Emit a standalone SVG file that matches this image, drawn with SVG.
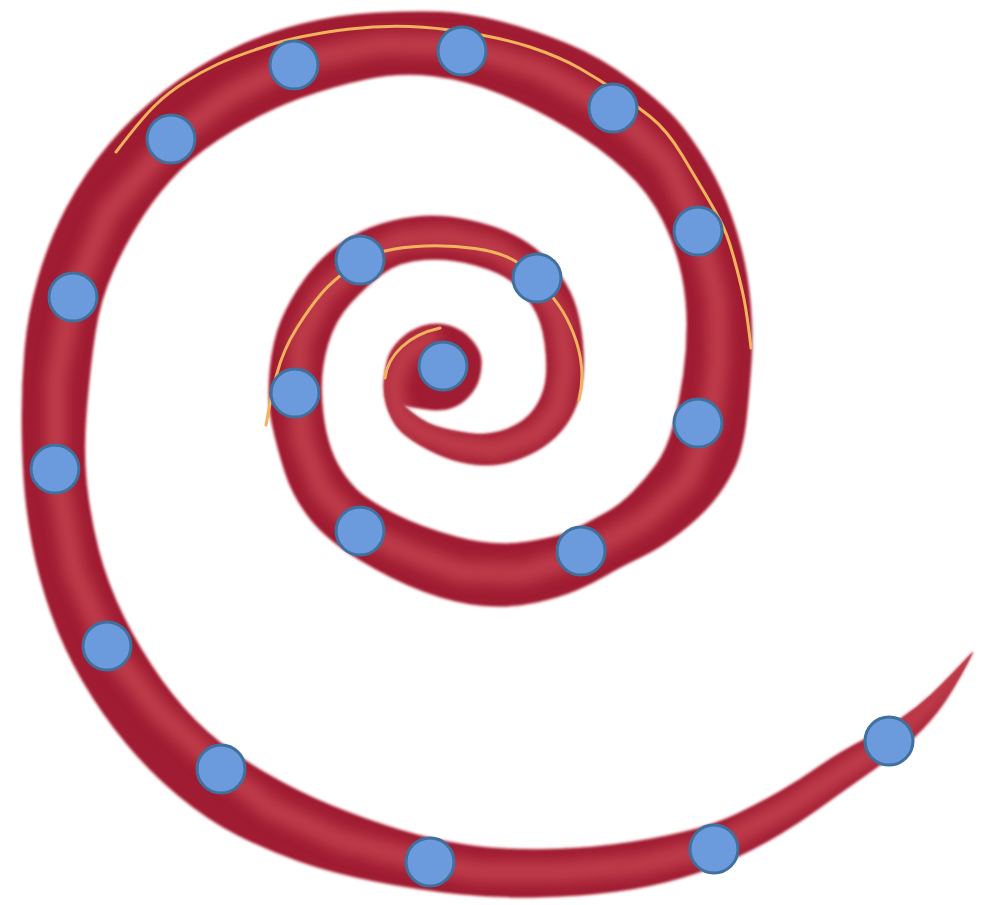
<svg xmlns="http://www.w3.org/2000/svg" width="992" height="905" viewBox="0 0 992 905">
<style>
.band{fill:#a01f31}
.hl{fill:none;stroke:#c4434f;stroke-width:22;stroke-linejoin:round;stroke-linecap:round;opacity:0.85}
.gold{fill:none;stroke:#f2b35e;stroke-width:3;stroke-linecap:round}
.dot{fill:#6b9bdc;stroke:#41709c;stroke-width:3}
</style>
<defs>
<path id="bandPath" d="M973,652 Q952,693 937.5,711.5 Q923,730 906.5,744 Q890,758 865,775.5 Q840,793 820,807.5 Q800,822 780,834 Q760,846 737,857 Q714,868 682,877.5 Q650,887 615,891.5 Q580,896 540,897 Q500,898 460,894 Q420,890 376.5,881.5 Q333,873 300,861.5 Q267,850 237.5,835 Q208,820 179,796 Q150,772 126,743 Q102,714 83,681.5 Q64,649 51.5,614 Q39,579 32.5,544.5 Q26,510 24,480 Q22,450 22,416.5 Q22,383 25,348.5 Q28,314 38.5,277.5 Q49,241 67,207 Q85,173 109.5,144 Q134,115 164,91.5 Q194,68 228.5,51 Q263,34 300,24.5 Q337,15 375.5,13 Q414,11 440.5,12 Q467,13 500,21.5 Q533,30 566.5,43.5 Q600,57 633.5,82 Q667,107 683.5,128.5 Q700,150 713.5,175 Q727,200 737,233.5 Q747,267 750,300 Q753,333 751.5,358 Q750,383 746.5,416.5 Q743,450 734,468.5 Q725,487 712.5,502 Q700,517 680,532.5 Q660,548 640,557.5 Q620,567 606.5,575 Q593,583 576.5,590 Q560,597 535,602.5 Q510,608 482.5,605.5 Q455,603 424,591.5 Q393,580 360,560 Q327,540 310,518.5 Q293,497 285,472 Q277,447 272,423.5 Q267,400 270,370 Q273,340 281.5,320 Q290,300 303.5,281 Q317,262 333.5,249 Q350,236 370,228 Q390,220 415,217 Q440,214 470,220.5 Q500,227 520,238.5 Q540,250 553.5,266.5 Q567,283 573.5,300 Q580,317 582.5,342 Q585,367 581.5,386 Q578,405 570,418.5 Q562,432 549.5,442 Q537,452 520,458.5 Q503,465 486.5,465 Q470,465 453.5,460 Q437,455 420,445 Q403,435 396.5,426 Q390,417 386.5,405 Q383,393 384,381.5 Q385,370 387.5,360 Q390,350 400,340 Q410,330 423.5,326 Q437,322 450,326 Q463,330 471.5,340 Q480,350 481,358.5 Q482,367 479.5,377 Q477,387 470,395 Q463,403 455,406.5 Q447,410 437,410 Q427,410 403,405 Q420,421 435,426 Q450,431 470,433.5 Q490,436 507.5,429 Q525,422 534,409.5 Q543,397 545.5,382 Q548,367 545,343.5 Q542,320 532,305 Q522,290 511,281 Q500,272 475,265 Q450,258 425,259.5 Q400,261 383.5,273 Q367,285 351,302.5 Q335,320 328,343.5 Q321,367 321.5,390 Q322,413 326,431.5 Q330,450 337.5,464 Q345,478 356,489 Q367,500 393.5,513.5 Q420,527 456.5,537 Q493,547 526.5,542 Q560,537 576.5,528.5 Q593,520 606.5,512.5 Q620,505 632.5,492.5 Q645,480 656,465 Q667,450 673.5,425 Q680,400 683.5,375 Q687,350 687,325 Q687,300 682,275 Q677,250 663.5,221.5 Q650,193 625,170 Q600,147 566.5,127 Q533,107 500,93.5 Q467,80 433.5,76 Q400,72 366.5,79 Q333,86 300,98 Q267,110 233.5,130 Q200,150 180,170 Q160,190 143.5,215 Q127,240 113.5,270 Q100,300 95,333.5 Q90,367 86.5,408.5 Q83,450 86.5,483.5 Q90,517 98.5,550 Q107,583 123.5,616.5 Q140,650 161.5,680 Q183,710 207,731.5 Q231,753 265.5,773 Q300,793 333.5,806.5 Q367,820 400,830 Q433,840 466.5,845 Q500,850 540,849.5 Q580,849 615,844.5 Q650,840 682,832.5 Q714,825 737,814 Q760,803 780,791.5 Q800,780 820,766 Q840,752 862.5,740.5 Q885,729 901,718.5 Q917,708 931,695 Q945,682 973,652 Z"/>
<clipPath id="bandClip"><use href="#bandPath"/></clipPath>
<filter id="soft" x="-5%" y="-5%" width="110%" height="110%"><feGaussianBlur stdDeviation="7"/></filter>
<filter id="edge" x="-2%" y="-2%" width="104%" height="104%"><feGaussianBlur stdDeviation="0.8"/></filter>
</defs>
<g id="spiral">
<use href="#bandPath" fill="none" stroke="#f0c4c8" stroke-width="3" filter="url(#edge)"/>
<use href="#bandPath" class="band" filter="url(#edge)"/>
<g clip-path="url(#bandClip)">
<polyline class="hl" filter="url(#soft)" points="973,652 935,697 889,742 840,773 790,806 714,847 640,865 560,872 480,872 430,863 340,840 270,808 221,769 158,711 107,646 74,570 56,469 56,380 72,297 108,212 172,139 230,95 295,62 380,44 462,46 540,70 613,110 667,162 700,231 717,300 718,360 710,423 688,480 645,520 580,556 520,574 460,572 400,549 360,530 322,490 302,440 298,393 300,340 322,295 360,260 400,240 445,236 495,248 536,278 561,320 566,367 558,410 535,435 495,450 455,445 420,432 398,414 392,385 405,352 430,338"/>
</g>
<path class="gold" d="M116,152 Q142,118 155.5,105 Q169,92 185,82 Q201,72 217,64.5 Q233,57 266.5,46 Q300,35 350,29 Q400,23 450,30 Q500,37 530,47 Q560,57 580,68.5 Q600,80 616.5,91.5 Q633,103 650,116.5 Q667,130 682,155 Q697,180 705,193.5 Q713,207 720,220 Q727,233 733.5,256.5 Q740,280 743.5,296.5 Q747,313 751,348"/>
<path class="gold" d="M266,425 Q270,400 276.5,375 Q283,350 296.5,328.5 Q310,307 321.5,293.5 Q333,280 351.5,267.5 Q370,255 385,251 Q400,247 425,246 Q450,245 475,248.5 Q500,252 515,261 Q530,270 540,281.5 Q550,293 558.5,305 Q567,317 573.5,333.5 Q580,350 581.5,366.5 Q583,383 579,400"/>
<path class="gold" d="M385,378 C388,355 408,335 440,328"/>
</g>
<g id="nodes">
<g id="node-1"><circle class="dot" cx="443" cy="366" r="24"/></g>
<g id="node-2"><circle class="dot" cx="295" cy="393" r="24"/></g>
<g id="node-3"><circle class="dot" cx="360" cy="260" r="24"/></g>
<g id="node-4"><circle class="dot" cx="537" cy="278" r="24"/></g>
<g id="node-5"><circle class="dot" cx="360" cy="531" r="24"/></g>
<g id="node-6"><circle class="dot" cx="581" cy="551" r="24"/></g>
<g id="node-7"><circle class="dot" cx="698" cy="423" r="24"/></g>
<g id="node-8"><circle class="dot" cx="698" cy="231" r="24"/></g>
<g id="node-9"><circle class="dot" cx="613" cy="108" r="24"/></g>
<g id="node-10"><circle class="dot" cx="462" cy="51" r="24"/></g>
<g id="node-11"><circle class="dot" cx="294" cy="65" r="24"/></g>
<g id="node-12"><circle class="dot" cx="171" cy="139" r="24"/></g>
<g id="node-13"><circle class="dot" cx="73" cy="297" r="24"/></g>
<g id="node-14"><circle class="dot" cx="55" cy="469" r="24"/></g>
<g id="node-15"><circle class="dot" cx="107" cy="646" r="24"/></g>
<g id="node-16"><circle class="dot" cx="221" cy="769" r="24"/></g>
<g id="node-17"><circle class="dot" cx="430" cy="862" r="24"/></g>
<g id="node-18"><circle class="dot" cx="714" cy="849" r="24"/></g>
<g id="node-19"><circle class="dot" cx="889" cy="741" r="24"/></g>
</g>
</svg>
